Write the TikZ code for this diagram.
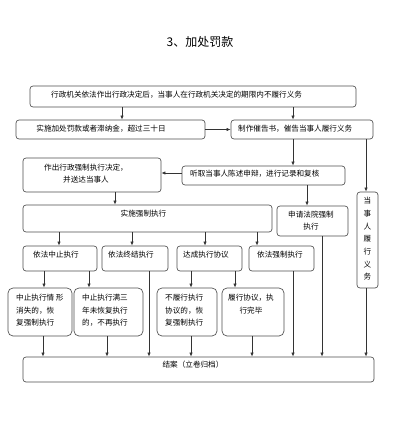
\documentclass[tikz,border=0pt]{standalone}
\usepackage{fontspec}
\setmainfont{Noto Sans CJK SC}
\usetikzlibrary{arrows.meta}
\begin{document}
\begin{tikzpicture}[x=1pt,y=-1pt,
  box/.style={draw=black!70, line width=0.65pt, rounded corners=3pt, inner sep=0pt},
  rbox/.style={box, rounded corners=5pt},
  txt/.style={inner sep=0pt, font=\fontsize{7.6}{12.5}\selectfont, text=black},
  arr/.style={draw=black!80, line width=0.6pt, -{Latex[length=4pt,width=3.2pt]}}]
\useasboundingbox (0,0) rectangle (401,422);
\node[inner sep=0pt, font=\fontsize{12}{14}\selectfont] (title) at (200,42) {3、加处罚款};
% boxes
\node[box, minimum width=326pt, minimum height=21pt] (b1) at (193,96.5) {};
\node[box, minimum width=189pt, minimum height=19pt] (b2) at (110.5,129.5) {};
\node[box, minimum width=142pt, minimum height=19pt] (b3) at (302,129.5) {};
\node[box, minimum width=138pt, minimum height=34pt] (b4) at (92,175) {};
\node[box, minimum width=163pt, minimum height=19pt] (b5) at (263.5,175.5) {};
\node[box, minimum width=249pt, minimum height=27pt] (b6) at (147.5,218.5) {};
\node[box, minimum width=71pt, minimum height=30pt] (b7) at (312.5,221) {};
\node[box, minimum width=21pt, minimum height=96pt] (b8) at (367.5,240) {};
\node[box, minimum width=74pt, minimum height=25pt] (r1) at (60,258.5) {};
\node[box, minimum width=66pt, minimum height=25pt] (r2) at (135,258.5) {};
\node[box, minimum width=65pt, minimum height=25pt] (r3) at (209.5,258.5) {};
\node[box, minimum width=65pt, minimum height=25pt] (r4) at (281.5,258.5) {};
\node[rbox, minimum width=64pt, minimum height=48pt] (qa) at (40,312) {};
\node[rbox, minimum width=69pt, minimum height=48pt] (qb) at (108.5,312) {};
\node[rbox, minimum width=60pt, minimum height=48pt] (qc) at (187,312) {};
\node[rbox, minimum width=62pt, minimum height=48pt] (qd) at (253,312) {};
\node[box, minimum width=351pt, minimum height=25pt] (end) at (198.5,369.5) {};
% texts
\node[txt, anchor=west] (t1) at (51,95) {行政机关依法作出行政决定后，当事人在行政机关决定的期限内不履行义务};
\node[txt] (t2) at (101,129) {实施加处罚款或者滞纳金，超过三十日};
\node[txt, anchor=west] (t3) at (238,129) {制作催告书，催告当事人履行义务};
\node[txt, align=center] (t4) at (86,173.5) {作出行政强制执行决定，\\并送达当事人};
\node[txt, anchor=west] (t5) at (190,174) {听取当事人陈述申辩，进行记录和复核};
\node[txt] (t6) at (143.5,214) {实施强制执行};
\node[txt, align=center] (t7) at (311,220.5) {申请法院强制\\执行};
\node[txt, align=center, font=\fontsize{7.6}{12.7}\selectfont] (t8) at (367.5,239) {当\\事\\人\\履\\行\\义\\务};
\node[txt, anchor=west] (tr1) at (33,255) {依法中止执行};
\node[txt, anchor=west] (tr2) at (108,255) {依法终结执行};
\node[txt, anchor=west] (tr3) at (183,255) {达成执行协议};
\node[txt, anchor=west] (tr4) at (257,255) {依法强制执行};
\node[txt, anchor=north west, align=left] (ta) at (16,294) {中止执行情 形\\消失的，恢\\复强制执行};
\node[txt, anchor=north west, align=left] (tb) at (82,294) {中止执行满三\\年未恢复执行\\的，不再执行};
\node[txt, anchor=north west, align=left] (tc) at (165,294) {不履行执行\\协议的，恢\\复强制执行};
\node[txt, anchor=north, align=center] (td) at (251,294) {履行协议，执\\行完毕};
\node[txt] (te) at (193,365) {结案（立卷归档）};
% connectors
\draw[arr] (122,0 |- b1.south) -- (122,0 |- b2.north);
\draw[arr] (293,0 |- b1.south) -- (293,0 |- b3.north);
\draw[arr] (b2.east) -- (b3.west);
\draw[arr] (293,0 |- b3.south) -- (293,0 |- b5.north);
\draw[arr] (366,0 |- b3.south) -- (366,0 |- b8.north);
\draw[arr] (b5.west |- 0,173) -- (b4.east |- 0,173);
\draw[arr] (115,0 |- b4.south) -- (115,0 |- b6.north);
\draw[arr] (307,0 |- b5.south) -- (307,0 |- b7.north);
\draw[arr] (59,0 |- b6.south) -- (59,0 |- r1.north);
\draw[arr] (132,0 |- b6.south) -- (132,0 |- r2.north);
\draw[arr] (205,0 |- b6.south) -- (205,0 |- r3.north);
\draw[arr] (257,0 |- b6.south) -- (257,0 |- r4.north);
\draw[arr] (44,0 |- r1.south) -- (44,0 |- qa.north);
\draw[arr] (89,0 |- r1.south) -- (89,0 |- qb.north);
\draw[arr] (191,0 |- r3.south) -- (191,0 |- qc.north);
\draw[arr] (235,0 |- r3.south) -- (235,0 |- qd.north);
\draw[arr] (43,0 |- qa.south) -- (43,0 |- end.north);
\draw[arr] (107,0 |- qb.south) -- (107,0 |- end.north);
\draw[arr] (149,0 |- r2.south) -- (149,0 |- end.north);
\draw[arr] (191,0 |- qc.south) -- (191,0 |- end.north);
\draw[arr] (252,0 |- qd.south) -- (252,0 |- end.north);
\draw[arr] (293,0 |- r4.south) -- (293,0 |- end.north);
\draw[arr] (322,0 |- b7.south) -- (322,0 |- end.north);
\draw[arr] (366,0 |- b8.south) -- (366,0 |- end.north);
\end{tikzpicture}
\end{document}
